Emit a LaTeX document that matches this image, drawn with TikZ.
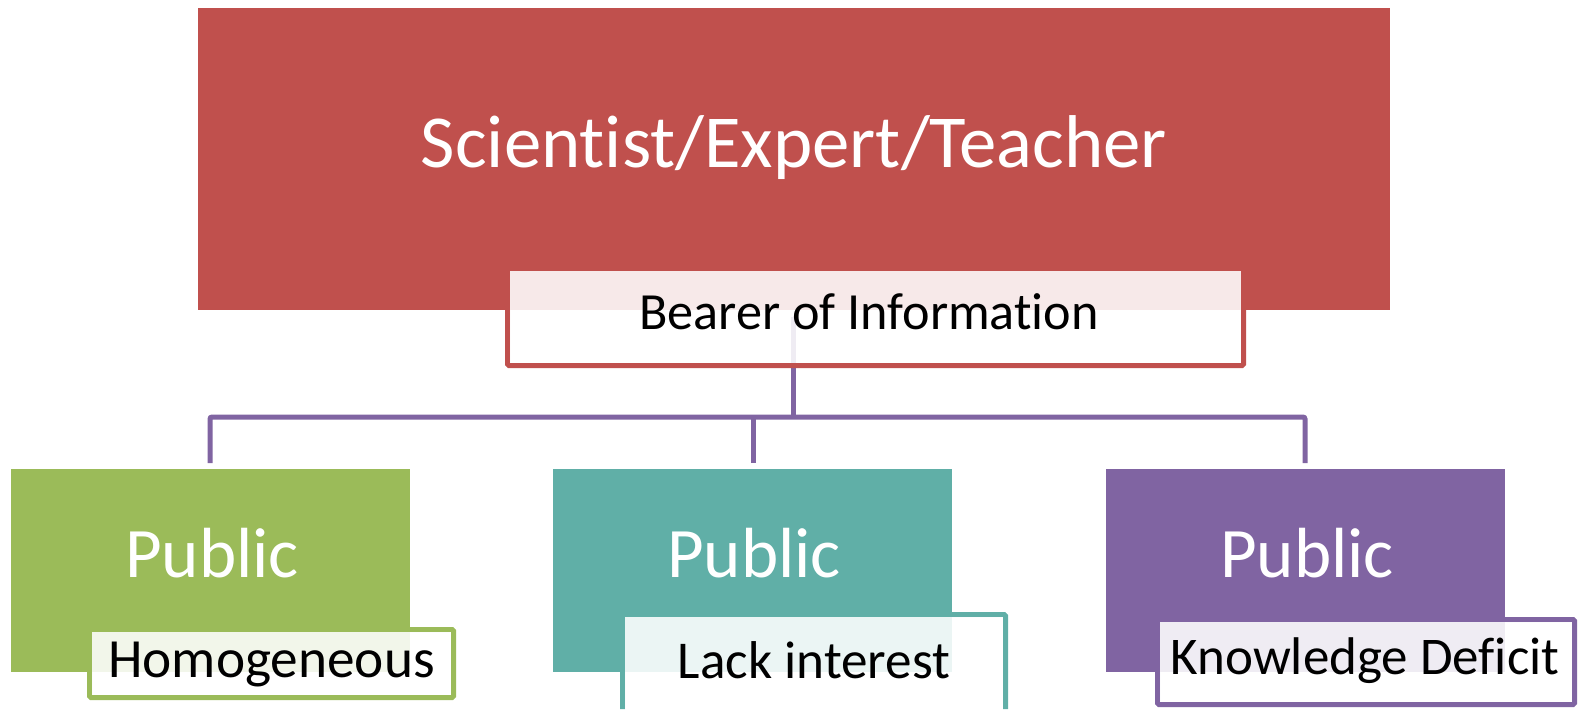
\documentclass[tikz,border=0pt]{standalone}
\usepackage{fontspec}
\setmainfont{Carlito}[Ligatures=NoCommon]
\definecolor{cred}{HTML}{C0504D}
\definecolor{cgreen}{HTML}{9BBB59}
\definecolor{cteal}{HTML}{60AFA7}
\definecolor{cpurple}{HTML}{8064A2}
\tikzset{
  frame/.style={draw=#1, line width=5pt, rounded corners=1.5pt},
  tint/.style={fill=white, fill opacity=0.88},
  conn/.style={draw=cpurple, line width=5pt, rounded corners=2pt},
  wtext/.style={text=white, anchor=base, inner sep=0pt},
  btext/.style={text=black, anchor=base, inner sep=0pt},
}
\begin{document}
\begin{tikzpicture}[x=1pt,y=-1pt]
\useasboundingbox (0,0) rectangle (1578,709);
\clip (0,0) rectangle (1578,709);
% connectors
\coordinate (j0) at (793,317);
\coordinate (jb) at (793,417);
\coordinate (dL) at (210,463);
\coordinate (dM) at (753,463);
\coordinate (dR) at (1305,463);
\draw[conn] (j0) -- (jb);
\draw[conn] (dL) |- (dR |- jb) -- (dR);
\draw[conn] (dM) -- (dM |- jb);
% label frames (behind boxes)
\draw[frame=cred] (507.5,268.5) rectangle (1243.5,365.5);
\draw[frame=cgreen] (89.5,629.5) rectangle (453.5,697.5);
\draw[frame=cteal] (622.5,709) |- (1005.5,614.5) -- (1005.5,709);
\draw[frame=cpurple] (1157.5,619.5) rectangle (1574.5,704.5);
% big boxes
\fill[cred] (198,8) rectangle (1390,310);
\fill[cgreen] (11,469) rectangle (410,672);
\fill[cteal] (553,469) rectangle (952,672);
\fill[cpurple] (1106,469) rectangle (1505,672);
% label tints
\fill[tint] (510,271) rectangle (1241,363);
\fill[tint] (92,632) rectangle (451,695);
\fill[tint] (625,617) rectangle (1003,709);
\fill[tint] (1160,622) rectangle (1572,702);
% texts
\node[wtext, font=\fontsize{74.8}{74.8}\selectfont] (title) at (794,167) {Scientist/Expert/Teacher};
\node[btext, font=\fontsize{52.2}{52.2}\selectfont] (bearer) at (869,329) {Bearer of Information};
\node[wtext, font=\fontsize{71}{71}\selectfont] (p1) at (212,577) {Public};
\node[wtext, font=\fontsize{71}{71}\selectfont] (p2) at (754,577) {Public};
\node[wtext, font=\fontsize{71}{71}\selectfont] (p3) at (1307,577) {Public};
\node[btext, font=\fontsize{55.3}{55.3}\selectfont] (l1) at (271.5,677) {Homogeneous};
\node[btext, font=\fontsize{53.2}{53.2}\selectfont] (l2) at (814,678) {Lack interest};
\node[btext, font=\fontsize{53}{53}\selectfont] (l3) at (1365,674) {Knowledge Deficit};
\end{tikzpicture}
\end{document}
